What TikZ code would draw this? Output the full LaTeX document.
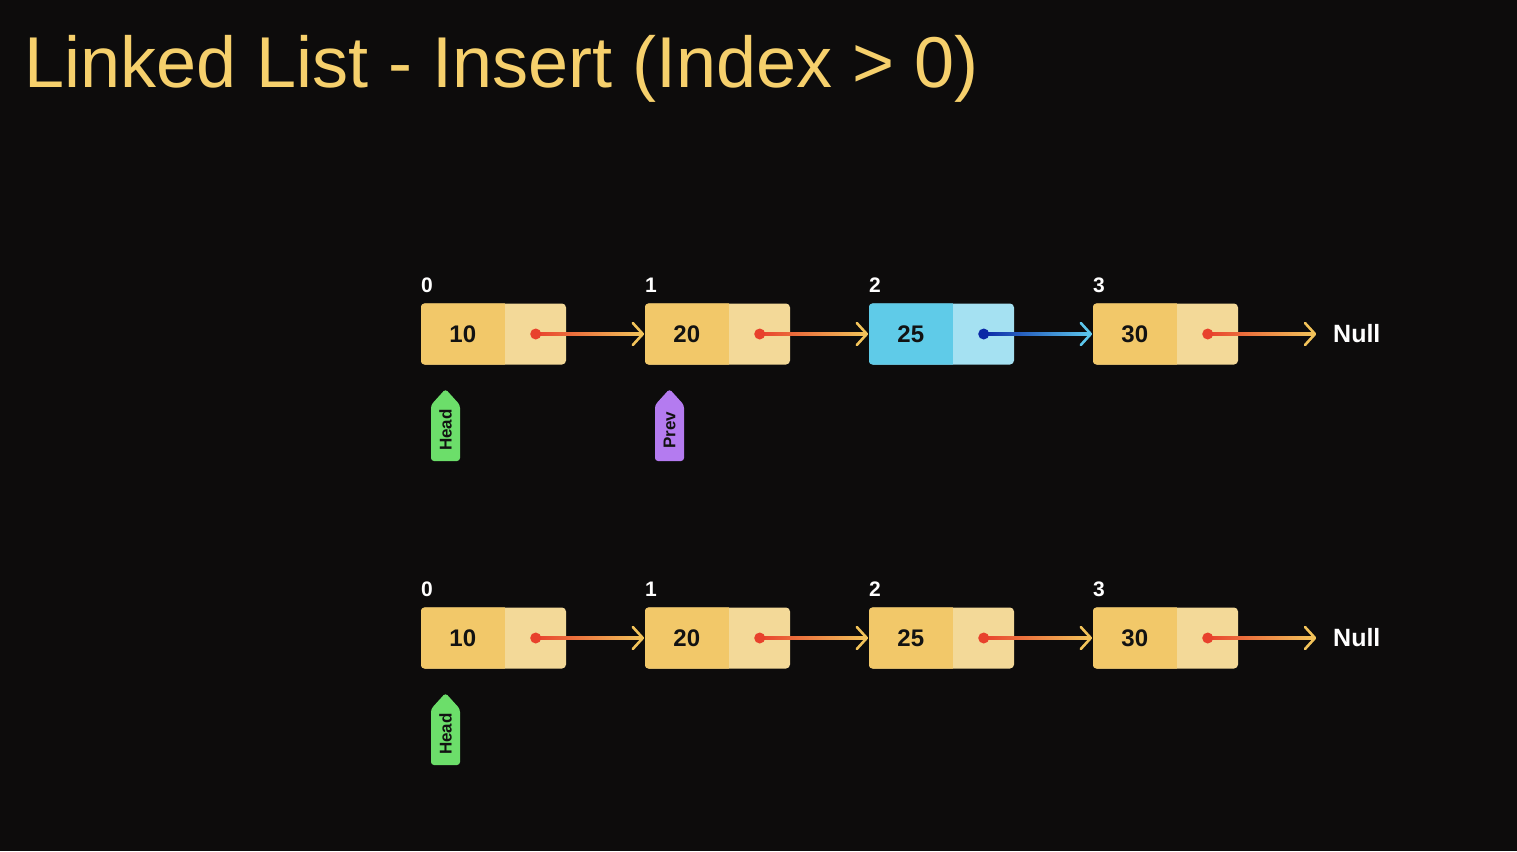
\documentclass[tikz,border=0pt]{standalone}
\usepackage{fontspec}
\setmainfont{Liberation Sans}
\usetikzlibrary{calc}
\definecolor{bg}{HTML}{0D0C0C}
\definecolor{ttl}{HTML}{F6D06C}
\definecolor{ydark}{HTML}{F2C869}
\definecolor{ylight}{HTML}{F3D998}
\definecolor{bdark}{HTML}{5FCBE8}
\definecolor{blight}{HTML}{A5E1F2}
\definecolor{pred}{HTML}{E8412C}
\definecolor{pyel}{HTML}{F2C35A}
\definecolor{pnavy}{HTML}{0A28A6}
\definecolor{pcyan}{HTML}{5CC6EC}
\definecolor{hgreen}{HTML}{6CDE6A}
\definecolor{ppurple}{HTML}{B47BF0}
\definecolor{txt}{HTML}{121212}
\tikzset{
  cellbox/.style={draw=none, rounded corners=4pt, minimum width=145pt, minimum height=61pt, inner sep=0pt},
  valtext/.style={text=txt, font=\fontsize{24}{24}\selectfont\bfseries, inner sep=0pt},
  idxtext/.style={text=white, font=\fontsize{21}{21}\selectfont\bfseries, inner sep=0pt},
  nulltext/.style={text=white, font=\fontsize{25}{25}\selectfont\bfseries, inner sep=0pt},
  tagtext/.style={text=txt, font=\fontsize{17}{17}\selectfont\bfseries, inner sep=0pt, rotate=90},
  tiparrow/.style={line width=2.6pt, line cap=round, line join=round},
}
% #1 name, #2 left x, #3 center y, #4 value, #5 index, #6 dark, #7 light
\newcommand{\llnode}[7]{%
  \node[cellbox, fill=#7] (#1) at (#2+72.5,#3) {};
  \begin{scope}
    \clip[rounded corners=4pt] (#1.south west) rectangle (#1.north east);
    \fill[#6] (#1.south west) rectangle ($(#1.north west)+(84,0)$);
  \end{scope}
  \node[valtext] (#1v) at ($(#1.west)+(42,0)$) {#4};
  \node[idxtext, anchor=base west] (#1i) at ($(#1.north west)+(0,-11)$) {#5};
  \coordinate (#1d) at ($(#1.east)+(-30.5,0)$);
}
% #1 from coord, #2 tip coord, #3 start color, #4 end color
\newcommand{\llarrow}[4]{%
  \shade[left color=#3, right color=#4] ($(#1)+(0,-1.3)$) rectangle ($(#2)+(-1.5,1.3)$);
  \draw[#4, tiparrow] ($(#2)+(-10,-11)$) -- (#2) -- ($(#2)+(-10,11)$);
  \fill[#3] (#1) circle (5.5);
}
% #1 name, #2 center x, #3 center y, #4 text, #5 color
\newcommand{\lltag}[5]{%
  \coordinate (#1c) at (#2,#3);
  \fill[#5, rounded corners=3pt] ($(#1c)+(-14.5,31)$) -- ($(#1c)+(-14.5,-25)$) -- ($(#1c)+(0,-41)$) -- ($(#1c)+(14.5,-25)$) -- ($(#1c)+(14.5,31)$) -- cycle;
  \node[tagtext] (#1) at (#1c) {#4};
}
\begin{document}
\begin{tikzpicture}[x=1pt,y=-1pt]
\path[use as bounding box, fill=bg] (0,0) rectangle (1517,851);
\node[anchor=base west, text=ttl, font=\fontsize{72}{72}\selectfont, inner sep=0pt] (title) at (24,88) {Linked List - Insert (Index > 0)};

% row 1
\llnode{a1}{421}{334}{10}{0}{ydark}{ylight}
\llnode{a2}{645}{334}{20}{1}{ydark}{ylight}
\llnode{a3}{869}{334}{25}{2}{bdark}{blight}
\llnode{a4}{1093}{334}{30}{3}{ydark}{ylight}
\node[nulltext, anchor=west] (an) at (1333,334) {Null};
\coordinate (t2) at ($(a2.west)+(-2,0)$);
\coordinate (t3) at ($(a3.west)+(-2,0)$);
\coordinate (t4) at ($(a4.west)+(-2,0)$);
\coordinate (tn) at ($(an.west)+(-18,0)$);
\llarrow{a1d}{t2}{pred}{pyel}
\llarrow{a2d}{t3}{pred}{pyel}
\llarrow{a3d}{t4}{pnavy}{pcyan}
\llarrow{a4d}{tn}{pred}{pyel}
\lltag{h1}{445.5}{430}{Head}{hgreen}
\lltag{p1}{669.5}{430}{Prev}{ppurple}

% row 2
\llnode{b1}{421}{638}{10}{0}{ydark}{ylight}
\llnode{b2}{645}{638}{20}{1}{ydark}{ylight}
\llnode{b3}{869}{638}{25}{2}{ydark}{ylight}
\llnode{b4}{1093}{638}{30}{3}{ydark}{ylight}
\node[nulltext, anchor=west] (bn) at (1333,638) {Null};
\coordinate (u2) at ($(b2.west)+(-2,0)$);
\coordinate (u3) at ($(b3.west)+(-2,0)$);
\coordinate (u4) at ($(b4.west)+(-2,0)$);
\coordinate (un) at ($(bn.west)+(-18,0)$);
\llarrow{b1d}{u2}{pred}{pyel}
\llarrow{b2d}{u3}{pred}{pyel}
\llarrow{b3d}{u4}{pred}{pyel}
\llarrow{b4d}{un}{pred}{pyel}
\lltag{h2}{445.5}{734}{Head}{hgreen}
\end{tikzpicture}
\end{document}
